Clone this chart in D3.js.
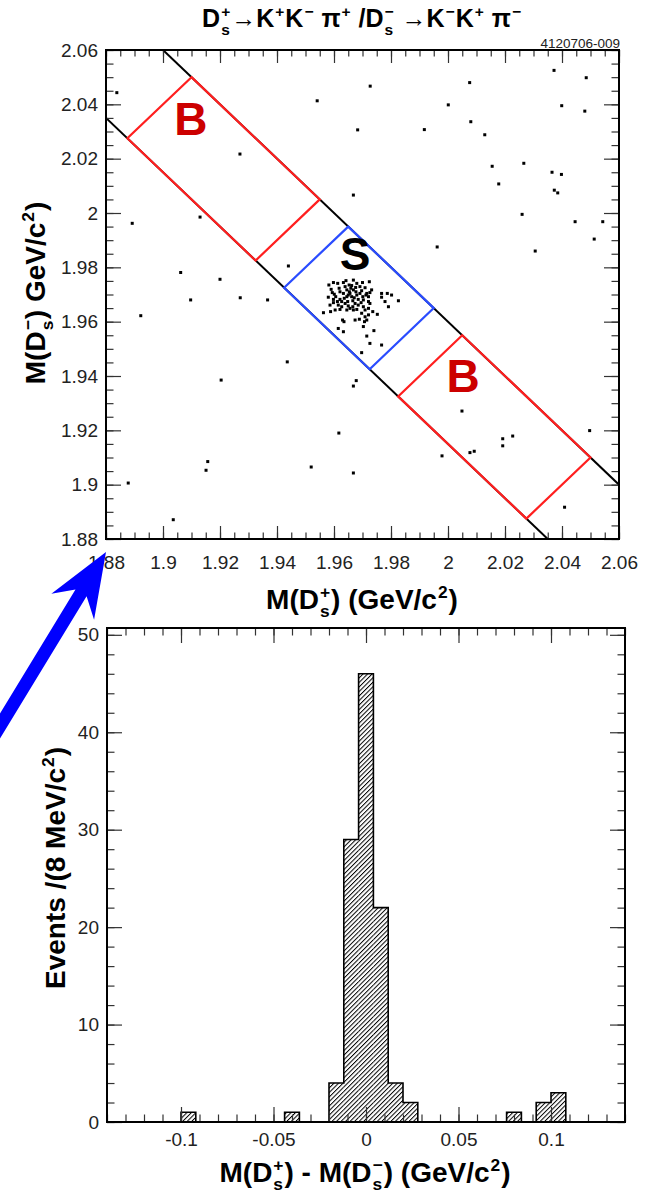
<!DOCTYPE html>
<html><head><meta charset="utf-8">
<script src="https://cdn.jsdelivr.net/npm/d3@7"></script>
<style>
html,body{margin:0;padding:0;background:#fff;}
svg{display:block;}
text{font-family:"Liberation Sans",Arial,Helvetica,sans-serif;white-space:pre;}
</style></head><body>
<svg id="chart" width="650" height="1194"></svg>
<script>
// ---------------- DATA ----------------
// Scatter: M(Ds+) vs M(Ds-) in GeV/c^2
const scatterDplus = [
 1.8838,1.9541,1.9683,1.9270,1.9668,1.8892,1.9130,1.9440,1.9062,1.9200,
 1.9727,2.0076,2.0372,2.0485,2.0001,2.0399,2.0480,2.0080,1.9917,2.0129,
 2.0155,2.0266,2.0365,2.0398,2.0178,2.0373,2.0385,2.0260,2.0446,2.0543,
 2.0513,1.9962,2.0306,1.9097,1.9271,1.9367,1.8922,1.9436,1.9204,1.9678,
 1.9668,1.9617,1.9157,1.9151,1.9520,1.9668,1.8878,1.9036,2.0049,2.0192,
 2.0227,2.0192,2.0077,2.0092,1.9979,2.0497,2.0409,
 1.9582,1.9598,1.9613,1.9633,1.9653,1.9662,1.9680,1.9700,1.9724,1.9590,
 1.9594,1.9601,1.9618,1.9639,1.9645,1.9654,1.9668,1.9676,1.9691,1.9709,
 1.9715,1.9732,1.9580,1.9606,1.9621,1.9627,1.9636,1.9645,1.9650,1.9656,
 1.9662,1.9671,1.9680,1.9691,1.9701,1.9712,1.9721,1.9726,1.9767,1.9787,
 1.9802,1.9826,1.9779,1.9791,1.9586,1.9598,1.9615,1.9627,1.9639,1.9650,
 1.9656,1.9666,1.9674,1.9685,1.9695,1.9703,1.9709,1.9721,1.9726,1.9736,
 1.9563,1.9588,1.9604,1.9621,1.9645,1.9668,1.9680,1.9697,1.9709,1.9721,
 1.9752,1.9630,1.9635,1.9674,1.9689,1.9707,1.9715,1.9615,1.9633,1.9703,
 1.9740,1.9715,1.9726,1.9767,1.9697,1.9621,1.9633,1.9666,1.9685,1.9703,
 1.9648,1.9677,1.9697,1.9612,1.9721,1.9659,1.9642,1.9668,1.9767,1.9598
];
const scatterDminus = [
 2.0443,2.0413,2.0306,2.0217,2.0066,1.9962,1.9985,1.9805,1.9781,1.9756,
 2.0467,2.0480,2.0525,2.0498,2.0398,2.0395,2.0375,2.0336,2.0307,2.0288,
 2.0172,2.0183,2.0150,2.0142,2.0107,2.0084,2.0074,1.9995,1.9968,1.9968,
 1.9904,1.9875,1.9860,1.9680,1.9688,1.9680,1.9622,1.9452,1.9385,1.9383,
 1.9363,1.9190,1.9085,1.9053,1.9065,1.9043,1.9006,1.8871,1.9271,1.9169,
 1.9179,1.9143,1.9118,1.9123,1.9106,1.9199,1.8917,
 1.9735,1.9744,1.9741,1.9744,1.9735,1.9733,1.9741,1.9744,1.9747,1.9719,
 1.9707,1.9701,1.9723,1.9729,1.9717,1.9710,1.9717,1.9726,1.9729,1.9725,
 1.9704,1.9717,1.9690,1.9692,1.9682,1.9674,1.9686,1.9692,1.9698,1.9704,
 1.9692,1.9688,1.9698,1.9704,1.9692,1.9698,1.9692,1.9707,1.9690,1.9704,
 1.9698,1.9677,1.9674,1.9655,1.9661,1.9670,1.9661,1.9655,1.9667,1.9658,
 1.9649,1.9655,1.9667,1.9661,1.9670,1.9655,1.9643,1.9649,1.9667,1.9637,
 1.9633,1.9637,1.9643,1.9645,1.9643,1.9643,1.9645,1.9631,1.9618,1.9625,
 1.9627,1.9606,1.9600,1.9606,1.9609,1.9600,1.9606,1.9575,1.9563,1.9582,
 1.9567,1.9547,1.9520,1.9514,1.9486,1.9710,1.9704,1.9677,1.9682,1.9680,
 1.9674,1.9710,1.9714,1.9674,1.9674,1.9723,1.9751,1.9753,1.9704,1.9682
];
// Band: M(Ds+) + M(Ds-) limits
const bandSums = [3.915, 3.960];
// Regions along the band in M(Ds+) - M(Ds-)
const regionNames = ["B", "S", "B"];
const regionDiffLo = [-0.14, -0.03, 0.05];
const regionDiffHi = [-0.05, 0.03, 0.14];

// Histogram of M(Ds+) - M(Ds-), 8 MeV bins (non-empty bins)
const histLowEdges = [-0.100, -0.044, -0.020, -0.012, -0.004, 0.004, 0.012, 0.020, 0.076, 0.092, 0.100];
const histCounts   = [1, 1, 4, 29, 46, 22, 4, 2, 1, 2, 3];
const histBinWidth = 0.008;

const topXTicks = [1.88,1.90,1.92,1.94,1.96,1.98,2.00,2.02,2.04,2.06];
const topYTicks = [1.88,1.90,1.92,1.94,1.96,1.98,2.00,2.02,2.04,2.06];
const histXTicks = [-0.1,-0.05,0,0.05,0.1];
const histYTicks = [0,10,20,30,40,50];

// ---------------- DRAWING ----------------
const svg = d3.select("#chart");
const FONT = '"Liberation Sans",Arial,Helvetica,sans-serif';

function rich(parent, parts, size, weight, anchor) {
  const g = parent.append("g");
  let x = 0;
  const mk = (txt, xx, yy, sz, fam) => {
    const t = g.append("text").attr("x", xx).attr("y", yy)
      .attr("font-size", sz).attr("font-weight", weight).attr("fill", "#000").text(txt);
    if (fam) t.attr("font-family", fam);
    return t.node().getComputedTextLength();
  };
  parts.forEach(p => {
    if (typeof p === "string") { x += mk(p, x, 0, size); }
    else if (p.t) { x += mk(p.t, x, 0, size, p.fam); }
    else {
      let w = 0;
      if (p.sup) w = Math.max(w, mk(p.sup, x + 1, -size * 0.40, size * 0.62));
      if (p.sub) w = Math.max(w, mk(p.sub, x + 1, size * 0.30, size * 0.62));
      x += w + 2;
    }
  });
  const shift = anchor === "middle" ? -x / 2 : (anchor === "end" ? -x : 0);
  g.selectAll("text").attr("x", function(){ return +this.getAttribute("x") + shift; });
  return g;
}

function drawAxes(g, xs, ys, xMajor, xMinor, yMajor, yMinor, xFmt, yFmt, xLen, yLen, xPad, yPad) {
  const [x0, x1] = xs.range();
  const [y0, y1] = ys.range();
  const styl = sel => {
    sel.select(".domain").remove();
    sel.selectAll(".tick line").attr("stroke", "#333").attr("stroke-width", 1.2);
    sel.selectAll(".tick text").attr("fill", "#222").attr("font-size", 19)
      .attr("font-family", FONT);
  };
  g.append("g").attr("transform", `translate(0,${y0})`)
    .call(d3.axisBottom(xs).tickValues(xMinor).tickSize(-xLen[1]).tickFormat("")).call(styl);
  g.append("g").attr("transform", `translate(0,${y0})`)
    .call(d3.axisBottom(xs).tickValues(xMajor).tickSize(-xLen[0]).tickPadding(xPad).tickFormat(xFmt)).call(styl);
  g.append("g").attr("transform", `translate(0,${y1})`)
    .call(d3.axisTop(xs).tickValues(xMinor).tickSize(-xLen[1]).tickFormat("")).call(styl);
  g.append("g").attr("transform", `translate(0,${y1})`)
    .call(d3.axisTop(xs).tickValues(xMajor).tickSize(-xLen[0]).tickFormat("")).call(styl);
  g.append("g").attr("transform", `translate(${x0},0)`)
    .call(d3.axisLeft(ys).tickValues(yMinor).tickSize(-yLen[1]).tickFormat("")).call(styl);
  g.append("g").attr("transform", `translate(${x0},0)`)
    .call(d3.axisLeft(ys).tickValues(yMajor).tickSize(-yLen[0]).tickPadding(yPad).tickFormat(yFmt)).call(styl);
  g.append("g").attr("transform", `translate(${x1},0)`)
    .call(d3.axisRight(ys).tickValues(yMinor).tickSize(-yLen[1]).tickFormat("")).call(styl);
  g.append("g").attr("transform", `translate(${x1},0)`)
    .call(d3.axisRight(ys).tickValues(yMajor).tickSize(-yLen[0]).tickFormat("")).call(styl);
  g.append("rect").attr("x", x0).attr("y", y1).attr("width", x1 - x0).attr("height", y0 - y1)
    .attr("fill", "none").attr("stroke", "#000").attr("stroke-width", 2);
}

const fmtNum = d => String(+d.toFixed(3));

// ===== Top scatter plot =====
const xS = d3.scaleLinear().domain([1.88, 2.06]).range([106, 619]);
const yS = d3.scaleLinear().domain([1.88, 2.06]).range([539, 50]);
const topG = svg.append("g");

const defs = svg.append("defs");
defs.append("clipPath").attr("id", "clipTop")
  .append("rect").attr("x", 106).attr("y", 50).attr("width", 513).attr("height", 489);

const plotArea = topG.append("g").attr("clip-path", "url(#clipTop)");

bandSums.forEach(s => {
  const xStart = Math.max(1.88, s - 2.06), xEnd = Math.min(2.06, s - 1.88);
  plotArea.append("line")
    .attr("x1", xS(xStart)).attr("y1", yS(s - xStart))
    .attr("x2", xS(xEnd)).attr("y2", yS(s - xEnd))
    .attr("stroke", "#000").attr("stroke-width", 2);
});

const boxColors = ["#ff1f1f", "#2a4cff", "#ff1f1f"];
regionDiffLo.forEach((lo, i) => {
  const hi = regionDiffHi[i];
  const corner = (s, d) => [xS((s + d) / 2), yS((s - d) / 2)];
  const pts = [corner(bandSums[1], lo), corner(bandSums[1], hi), corner(bandSums[0], hi), corner(bandSums[0], lo)];
  plotArea.append("polygon").attr("points", pts.map(p => p.join(",")).join(" "))
    .attr("fill", "none").attr("stroke", boxColors[i]).attr("stroke-width", 2.2);
});

plotArea.selectAll("rect.pt").data(scatterDplus.map((x, i) => [x, scatterDminus[i]]))
  .join("rect").attr("class", "pt")
  .attr("x", d => xS(d[0]) - 1.5).attr("y", d => yS(d[1]) - 1.5)
  .attr("width", 3).attr("height", 3).attr("fill", "#000");

// label anchor = baseline centre, in data units
const labelPos = [[1.9098, 2.0287], [1.9674, 1.9790], [2.0053, 1.9341]];
const labelColors = ["#cc0000", "#000", "#cc0000"];
regionNames.forEach((n, i) => {
  topG.append("text").attr("x", xS(labelPos[i][0])).attr("y", yS(labelPos[i][1]))
    .attr("text-anchor", "middle").attr("font-size", 46).attr("font-weight", "bold")
    .attr("fill", labelColors[i]).text(n);
});

drawAxes(topG, xS, yS, topXTicks, d3.range(0, 37).map(i => 1.88 + i * 0.005),
  topYTicks, d3.range(0, 37).map(i => 1.88 + i * 0.005), fmtNum, fmtNum,
  [13, 6.5], [15, 7.5], 17, 8);

// ===== Histogram =====
const hx = d3.scaleLinear().domain([-0.14, 0.14]).range([107, 625]);
const hy = d3.scaleLinear().domain([0, 50.7]).range([1122, 628]);
const hist = svg.append("g");

const pat = defs.append("pattern").attr("id", "hatch").attr("patternUnits", "userSpaceOnUse")
  .attr("width", 3.2).attr("height", 3.2).attr("patternTransform", "rotate(45)");
pat.append("line").attr("x1", 0).attr("y1", -1).attr("x2", 0).attr("y2", 5)
  .attr("stroke", "#000").attr("stroke-width", 2.0);

hist.selectAll("rect.bin").data(histLowEdges.map((e, i) => [e, histCounts[i]]))
  .join("rect").attr("class", "bin")
  .attr("x", d => hx(d[0])).attr("width", d => hx(d[0] + histBinWidth) - hx(d[0]))
  .attr("y", d => hy(d[1])).attr("height", d => hy(0) - hy(d[1]))
  .attr("fill", "url(#hatch)");

const nBins = Math.round(0.28 / histBinWidth);
const full = d3.range(nBins).map(i => {
  const lo = -0.14 + i * histBinWidth;
  const j = histLowEdges.findIndex(e => Math.abs(e - lo) < 1e-6);
  return [lo, j >= 0 ? histCounts[j] : 0];
});
let path = `M${hx(-0.14)},${hy(0)}`;
full.forEach(([lo, c]) => { path += `L${hx(lo)},${hy(c)}L${hx(lo + histBinWidth)},${hy(c)}`; });
path += `L${hx(0.14)},${hy(0)}`;
hist.append("path").attr("d", path).attr("fill", "none").attr("stroke", "#000").attr("stroke-width", 1.6);

drawAxes(hist, hx, hy, histXTicks, d3.range(0, 29).map(i => -0.14 + i * 0.01),
  histYTicks, d3.range(0, 26).map(i => i * 2), fmtNum, d3.format("d"),
  [15, 7.5], [15, 7.5], 11, 8);

// ===== Texts =====
const PI = '"Liberation Serif","DejaVu Serif",serif';
rich(svg, [
  "D", {sup: "+", sub: "s"}, "→K", {sup: "+"}, "K", {sup: "−"}, " ", {t: "π", fam: PI}, {sup: "+"},
  " /D", {sup: "−", sub: "s"}, " →K", {sup: "−"}, "K", {sup: "+"}, " ", {t: "π", fam: PI}, {sup: "−"}
], 25, "bold", "middle").attr("transform", "translate(362,27)");

svg.append("text").attr("x", 620).attr("y", 48).attr("text-anchor", "end")
  .attr("font-size", 13.5).attr("fill", "#222").text("4120706-009");

rich(svg, ["M(D", {sup: "+", sub: "s"}, ") (GeV/c", {sup: "2"}, ")"], 28, "bold", "middle")
  .attr("transform", "translate(362,609)");
rich(svg, ["M(D", {sup: "−", sub: "s"}, ") GeV/c", {sup: "2"}, ")"], 28, "bold", "middle")
  .attr("transform", "translate(45,293) rotate(-90)");
rich(svg, ["M(D", {sup: "+", sub: "s"}, ") - M(D", {sup: "−", sub: "s"}, ") (GeV/c", {sup: "2"}, ")"], 28, "bold", "middle")
  .attr("transform", "translate(365,1182)");
rich(svg, ["Events /(8 MeV/c", {sup: "2"}, ")"], 28, "bold", "middle")
  .attr("transform", "translate(65,868) rotate(-90)");

// ===== Blue arrow =====
const T = [106, 552];
const dv = [0.52, -0.854], nv = [0.854, 0.52];
const P = (a, b) => [T[0] - a * dv[0] + b * nv[0], T[1] - a * dv[1] + b * nv[1]];
const arrowPts = [T, P(64, 25), P(48, 6.5), P(290, 6.5), P(290, -6.5), P(48, -6.5), P(64, -25)];
svg.append("polygon").attr("points", arrowPts.map(p => p.join(",")).join(" ")).attr("fill", "#0000ff");
</script>
</body></html>
